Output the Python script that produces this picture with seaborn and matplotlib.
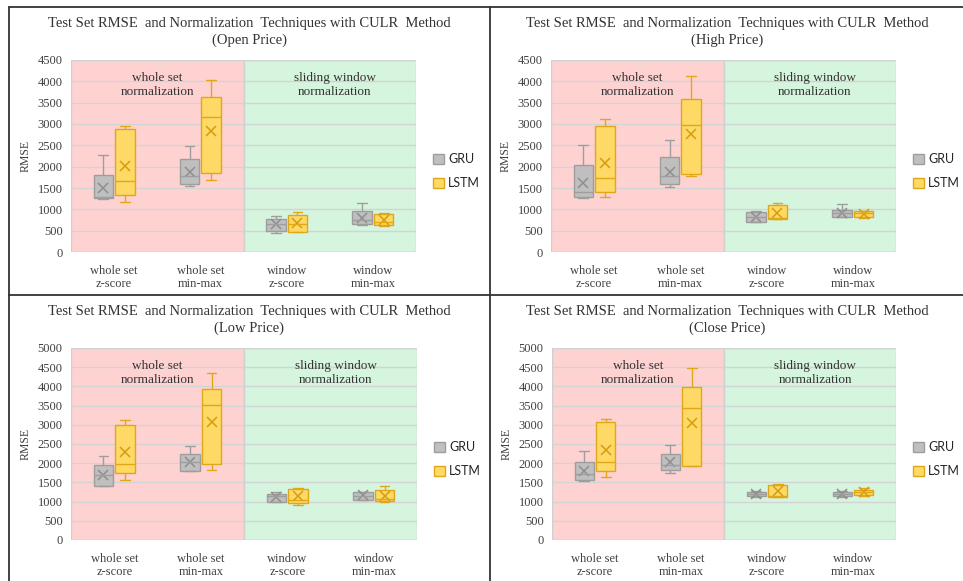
import numpy as np
import pandas as pd
import matplotlib
matplotlib.use("Agg")
import matplotlib.pyplot as plt
from matplotlib.lines import Line2D
from matplotlib.patches import Patch
import seaborn as sns

# categories on the x axis and the two models
categories = ["whole set\nz-score", "whole set\nmin-max", "window\nz-score", "window\nmin-max"]
models = ["GRU", "LSTM"]
price_names = ["Open Price", "High Price", "Low Price", "Close Price"]
y_max = [4500, 4500, 5000, 5000]

# box summaries per category: [low whisker, q1, median, q3, high whisker]
open_gru = [[1240, 1270, 1300, 1810, 2280], [1555, 1595, 1790, 2190, 2485],
            [445, 500, 660, 780, 850], [640, 655, 760, 970, 1155]]
open_lstm = [[1180, 1330, 1665, 2880, 2960], [1695, 1845, 3155, 3640, 4030],
             [475, 480, 650, 865, 930], [615, 625, 700, 900, 910]]
open_gru_mean = [1495, 1865, 645, 805]
open_lstm_mean = [2005, 2830, 670, 740]

high_gru = [[1260, 1300, 1400, 2030, 2515], [1530, 1600, 1775, 2220, 2615],
            [695, 710, 830, 930, 970], [810, 830, 905, 990, 1125]]
high_lstm = [[1280, 1400, 1740, 2945, 3110], [1780, 1830, 2985, 3595, 4135],
             [765, 775, 790, 1100, 1140], [795, 830, 905, 950, 970]]
high_gru_mean = [1615, 1885, 825, 920]
high_lstm_mean = [2085, 2765, 920, 890]

low_gru = [[1395, 1415, 1700, 1950, 2195], [1785, 1790, 2030, 2245, 2455],
           [990, 1000, 1140, 1205, 1250], [1030, 1035, 1150, 1245, 1260]]
low_lstm = [[1555, 1745, 1970, 2995, 3135], [1830, 1970, 3515, 3935, 4350],
            [920, 965, 1050, 1330, 1365], [980, 1005, 1075, 1290, 1410]]
low_gru_mean = [1685, 2020, 1130, 1165]
low_lstm_mean = [2285, 3065, 1135, 1135]

close_gru = [[1530, 1565, 1720, 2035, 2330], [1750, 1810, 1950, 2235, 2480],
             [1110, 1135, 1205, 1260, 1285], [1120, 1155, 1205, 1260, 1285]]
close_lstm = [[1645, 1795, 2020, 3060, 3150], [1920, 1925, 3450, 3980, 4470],
              [1120, 1125, 1140, 1430, 1450], [1155, 1170, 1240, 1290, 1345]]
close_gru_mean = [1795, 2020, 1205, 1205]
close_lstm_mean = [2355, 3050, 1275, 1240]

fill_colors = {"GRU": "#BFBFBF", "LSTM": "#FFD966"}
edge_colors = {"GRU": "#9E9E9E", "LSTM": "#E0A818"}
mean_colors = {"GRU": "#8E8E8E", "LSTM": "#D69C10"}

sns.set_theme(style="white")
plt.rcParams["font.family"] = ["Liberation Serif", "DejaVu Serif"]
text_color = "#333333"


def long_frame(gru, lstm):
    rows = []
    for model, boxes in zip(models, [gru, lstm]):
        for cat, vals in zip(categories, boxes):
            for v in vals:
                rows.append((cat, model, v))
    return pd.DataFrame(rows, columns=["method", "model", "rmse"])


panels = [
    (open_gru, open_lstm, open_gru_mean, open_lstm_mean),
    (high_gru, high_lstm, high_gru_mean, high_lstm_mean),
    (low_gru, low_lstm, low_gru_mean, low_lstm_mean),
    (close_gru, close_lstm, close_gru_mean, close_lstm_mean),
]

W, H = 963, 581
fig = plt.figure(figsize=(W / 100, H / 100), dpi=100)
fig.patch.set_facecolor("white")

# plot areas in pixels: left, top, right, bottom
boxes_px = [(71, 60, 416, 252), (551, 60, 896, 252),
            (71, 348, 417, 540), (552, 348, 896, 540)]
# centre of the two-line title block
title_px = [(249, 32), (727, 32), (249, 320), (727, 320)]

for i, (gru, lstm, gru_mean, lstm_mean) in enumerate(panels):
    l, t, r, b = boxes_px[i]
    ax = fig.add_axes([l / W, 1 - b / H, (r - l) / W, (b - t) / H])
    ax.set_facecolor("white")

    ax.axvspan(-0.5, 1.5, facecolor="#FFD2D2", edgecolor="#CFCFCF", lw=1, zorder=0)
    ax.axvspan(1.5, 3.5, facecolor="#D6F5DF", edgecolor="#CFCFCF", lw=1, zorder=0)

    df = long_frame(gru, lstm)
    for model in models:
        sns.boxplot(data=df[df["model"] == model], x="method", y="rmse",
                    hue="model", hue_order=models, order=categories,
                    palette=fill_colors, saturation=1, width=0.5, gap=0.1,
                    dodge=True, whis=(0, 100), linecolor=edge_colors[model],
                    linewidth=1.0, showfliers=False, legend=False, ax=ax)

    mean_df = pd.DataFrame({
        "method": categories * 2,
        "model": ["GRU"] * 4 + ["LSTM"] * 4,
        "rmse": gru_mean + lstm_mean,
    })
    sns.pointplot(data=mean_df, x="method", y="rmse", hue="model",
                  hue_order=models, order=categories, palette=mean_colors,
                  markers="x", linestyles="none", dodge=0.25, errorbar=None,
                  legend=False, ax=ax, markersize=6.5, markeredgewidth=1.1)

    ax.set_xlim(-0.5, 3.5)
    ax.set_ylim(0, y_max[i])
    ax.set_yticks(np.arange(0, y_max[i] + 1, 500))
    ax.set_axisbelow(True)
    ax.yaxis.grid(True, color="#D3D3D3", lw=1)
    ax.xaxis.grid(False)
    for s in ax.spines.values():
        s.set_visible(False)
    ax.tick_params(length=0, labelsize=9, colors="#404040", pad=6)
    ax.tick_params(axis="x", pad=9)
    ax.set_xlabel("")
    ax.set_ylabel("RMSE", fontsize=8.5, color="#404040")
    ax.yaxis.set_label_coords(-0.115, 0.5)
    for lab in ax.get_xticklabels():
        lab.set_linespacing(1.15)

    ax.text(0.25, 0.87, "whole set\nnormalization", transform=ax.transAxes,
            ha="center", va="center", fontsize=9.5, color=text_color, linespacing=1.2)
    ax.text(0.765, 0.87, "sliding window\nnormalization", transform=ax.transAxes,
            ha="center", va="center", fontsize=9.5, color=text_color, linespacing=1.2)

    handles = [Patch(facecolor=fill_colors[m], edgecolor=edge_colors[m], lw=1, label=m)
               for m in models]
    ax.legend(handles=handles, loc="center left", bbox_to_anchor=(1.048, 0.42),
              frameon=False, borderpad=0, borderaxespad=0,
              handlelength=0.9, handleheight=0.9, handletextpad=0.35,
              labelspacing=0.95, prop={"family": "Lato", "size": 9})

    tx, ty = title_px[i]
    fig.text(tx / W, 1 - ty / H,
             "Test Set RMSE  and Normalization  Techniques with CULR  Method\n(" + price_names[i] + ")",
             ha="center", va="center", fontsize=10.5, color=text_color, linespacing=1.3)

# panel frames
frame = dict(color="#333333", lw=1.3, transform=fig.transFigure)
fig.add_artist(Line2D([9 / W, 1], [1 - 7 / H, 1 - 7 / H], **frame))
fig.add_artist(Line2D([9 / W, 9 / W], [0, 1 - 7 / H], **frame))
fig.add_artist(Line2D([489.5 / W, 489.5 / W], [0, 1 - 7 / H], **frame))
fig.add_artist(Line2D([9 / W, 1], [1 - 294.5 / H, 1 - 294.5 / H], **frame))

fig.savefig("out.png", dpi=100)
